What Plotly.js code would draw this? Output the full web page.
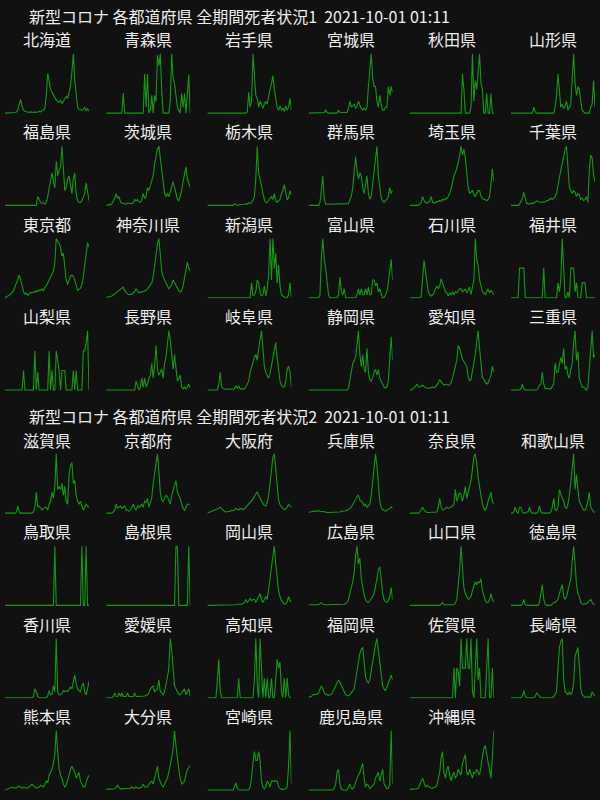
<!DOCTYPE html>
<html><head><meta charset="utf-8">
<script src="https://cdn.plot.ly/plotly-3.0.1.min.js"></script>
<style>html,body{margin:0;padding:0;background:#111111;}#chart{width:600px;height:800px;}</style>
</head><body><div id="chart"></div>
<script>
const mainTitle1 = '新型コロナ 各都道府県 全期間死者状況1  2021-10-01 01:11';
const mainTitle2 = '新型コロナ 各都道府県 全期間死者状況2  2021-10-01 01:11';
const prefNames = ['北海道','青森県','岩手県','宮城県','秋田県','山形県','福島県','茨城県','栃木県','群馬県','埼玉県','千葉県','東京都','神奈川県','新潟県','富山県','石川県','福井県','山梨県','長野県','岐阜県','静岡県','愛知県','三重県',
'滋賀県','京都府','大阪府','兵庫県','奈良県','和歌山県','鳥取県','島根県','岡山県','広島県','山口県','徳島県','香川県','愛媛県','高知県','福岡県','佐賀県','長崎県','熊本県','大分県','宮崎県','鹿児島県','沖縄県'];
const z = n => Array(n).fill(0);
const hokkaido = [0,0,0,0,0,0,0,1,2,5,15,23,12,5,3,2,2,1,2,1,1,2,1,2,3,2,3,5,8,30,67,55,40,35,30,25,22,20,18,22,16,20,25,28,25,35,45,70,100,55,25,10,6,5,5,6,10,4,7,3];
const aomori = [0,0,0,0,0,0,0,0,0,0,0,0,34,0,0,0,0,0,0,0,0,0,0,0,0,0,0,66,10,66,0,5,30,0,30,20,98,80,100,40,0,0,0,0,0,20,100,60,50,30,10,5,0,33,10,33,0,33,65,0];
const iwate = [...z(28),2,35,10,20,100,60,30,25,10,20,12,8,15,20,15,30,40,50,63,40,20,10,5,12,5,8,3,12,5,10,25,5];
const miyagi = [...z(11),1,5,1,...z(7),5,1,1,1,1,1,1,8,20,10,12,15,8,12,20,12,8,5,8,5,10,45,70,100,60,45,45,20,10,30,15,5,5,10,10,45,30,45,35];
const akita = [...z(37),66,40,0,0,0,0,10,100,20,55,40,80,100,50,40,0,0,33,0,0,33,0,0];
const yamagata = [...z(16),10,2,...z(13),10,30,66,40,10,15,8,12,20,5,10,15,60,100,50,30,45,40,20,5,2,0,0,0,0,10,15,55,10];
const fukushima = [...z(23),15,10,5,3,5,2,5,15,30,40,55,40,30,75,50,60,65,100,65,25,30,45,50,30,20,45,55,20,8,5,5,8,15,20,38,20,8];
const ibaraki = [0,0,2,1,3,8,12,20,12,15,6,4,3,3,2,4,3,3,3,5,10,8,10,6,5,10,20,12,15,30,25,35,45,50,70,85,95,100,80,55,30,20,15,20,15,25,30,40,30,20,10,8,15,25,40,50,65,45,35,30];
const tochigi = [...z(19),3,1,0,1,1,2,1,2,3,2,5,3,5,8,15,45,100,55,45,30,20,10,5,5,8,12,15,10,20,8,5,8,10,20,25,35,20,10,12,25,18];
const gunma = [...z(8),5,30,50,10,2,2,2,3,2,2,2,3,2,2,2,3,2,2,3,2,3,10,15,30,55,82,60,45,55,50,30,20,35,50,20,10,15,35,60,85,100,50,30,12,8,5,8,10,15,30,20,25];
const saitama = [0,0,0,0,0,0,0,2,5,15,8,5,4,5,6,15,5,4,5,5,6,8,7,10,9,10,12,15,20,28,40,50,55,62,72,85,100,85,95,80,55,30,20,22,25,18,15,20,25,25,15,12,10,10,8,10,15,35,62,40];
const chiba = [0,0,0,0,0,0,2,8,12,22,10,3,3,2,3,4,3,5,8,6,5,5,6,5,6,8,8,10,12,10,12,15,20,35,50,60,70,85,95,100,60,30,25,20,25,22,15,20,18,10,12,8,10,15,5,60,85,80,50,40];
const tokyo = [0,1,2,4,6,9,12,18,25,32,38,30,20,10,6,8,4,6,9,8,10,9,12,10,13,12,15,12,18,20,25,28,33,38,45,60,100,95,92,85,70,75,45,30,22,30,37,38,36,30,18,12,14,16,22,35,55,75,93,85];
const kanagawa = [1,1,2,2,3,5,6,8,10,12,15,16,18,12,8,6,5,5,6,8,10,15,12,8,9,10,10,12,12,15,18,22,25,35,55,75,90,100,70,45,35,30,25,20,15,18,22,30,25,20,15,12,10,12,20,35,50,60,50,45];
const niigata = [...z(31),25,3,5,10,30,25,8,3,5,20,3,15,40,100,30,100,50,75,25,55,20,5,3,1,0,0,5,25,0];
const toyama = [0,0,0,0,0,0,0,0,5,70,100,65,50,20,5,0,0,0,0,0,0,5,35,10,5,15,0,0,0,0,0,0,0,0,5,15,5,15,5,5,15,5,18,5,5,30,30,20,25,10,15,5,0,0,5,10,25,45,65,30];
const ishikawa = [0,0,0,0,0,0,0,0,2,30,63,45,25,10,5,3,5,8,15,20,15,20,32,25,15,10,8,3,8,5,10,5,10,8,12,15,15,10,12,15,8,12,18,5,15,30,100,65,55,30,20,10,8,5,10,15,8,12,10,5];
const fukui = [0,0,0,0,0,0,50,50,50,50,0,0,0,0,0,0,0,0,0,0,0,0,0,50,0,0,0,0,0,0,0,0,0,25,10,30,100,50,0,0,10,0,50,50,50,10,25,0,0,0,25,25,25,0,0,0,0,0,0,0];
const yamanashi = [...z(13),33,...z(7),66,0,30,...z(7),66,0,33,0,0,66,50,33,0,33,33,33,0,0,0,0,0,33,0,33,0,0,0,0,66,66,80,100,0];
const nagano = [...z(21),15,5,0,5,20,5,20,5,10,20,25,45,20,40,75,35,25,30,35,20,45,55,80,100,85,65,35,60,30,15,20,25,5,2,5,2,5,10,3];
const gifu = [0,0,0,0,0,0,0,0,10,30,5,2,1,2,1,2,1,2,1,2,7,3,7,2,2,2,2,5,10,15,30,40,48,55,60,50,70,90,100,70,40,30,25,20,28,40,50,65,80,55,35,15,8,5,5,15,35,40,30,5];
const shizuoka = [...z(28),3,20,30,45,50,55,75,100,60,40,60,35,30,70,30,18,15,20,30,35,25,35,20,15,8,5,3,5,15,45,90,50];
const aichi = [0,0,2,4,6,10,5,5,6,8,6,4,3,3,3,4,5,4,5,8,12,18,15,10,8,10,9,8,9,12,20,30,42,50,75,70,62,52,48,45,40,22,15,18,30,45,60,82,100,70,40,22,18,15,10,12,18,25,40,30];
const mie = [0,0,0,0,0,0,0,2,10,2,0,0,0,0,0,0,0,0,0,3,8,10,30,10,2,3,2,2,2,5,10,45,30,30,40,55,45,70,35,40,25,20,35,45,80,100,50,65,20,10,5,5,3,0,5,40,60,100,55,60];
const shiga = [0,0,0,0,0,0,0,0,2,12,2,0,0,0,0,0,0,0,0,0,2,10,35,10,12,8,5,8,10,10,5,15,20,35,25,45,100,40,45,40,50,30,45,20,15,65,80,85,50,55,30,20,15,20,10,5,10,15,12,10];
const kyoto = [0,0,0,0,0,2,5,15,8,10,12,8,10,12,5,5,3,5,10,15,8,5,12,10,12,15,10,20,18,25,10,20,25,50,70,90,100,70,35,22,20,25,30,28,20,15,30,40,50,55,35,30,25,15,8,5,10,15,15,15];
const osaka = [0,1,1,2,3,4,5,6,8,10,7,5,3,2,2,2,3,5,4,5,8,6,5,8,7,6,7,10,14,16,18,20,24,28,32,36,30,25,20,16,13,12,18,30,50,72,95,100,70,40,22,14,10,8,6,7,10,15,12,10];
const hyogo = [1,2,2,3,3,4,3,4,3,3,2,2,2,1,1,1,1,1,2,2,2,2,2,3,3,3,4,5,6,8,10,15,20,25,28,30,22,20,18,12,15,10,12,15,30,55,75,100,80,45,20,10,6,5,3,5,6,8,10,8];
const nara = [0,0,0,0,0,0,0,2,5,10,5,2,1,1,1,1,2,2,2,2,10,25,10,5,6,8,10,8,9,10,12,15,40,20,30,35,30,20,30,45,25,35,45,55,75,95,100,85,60,40,30,15,8,5,10,20,30,35,20,15];
const wakayama = [0,0,2,10,2,0,10,10,2,0,0,2,2,10,2,0,0,0,0,2,12,2,0,0,0,0,0,0,2,10,25,5,5,10,40,30,25,20,10,8,15,30,55,80,100,40,65,40,20,15,10,5,5,10,20,35,10,5,2,2];
const tottori = [...z(35),100,...z(18),100,0,0,100,0,0];
const shimane = [...z(49),100,100,...z(7),100,0];
const okayama = [...z(20),1,2,2,1,2,3,5,10,5,8,12,8,10,10,5,10,15,20,10,5,10,15,10,25,45,65,85,100,70,40,25,15,8,5,2,3,6,15,8,5];
const hiroshima = [1,1,1,1,1,1,1,1,3,5,2,1,1,1,1,1,1,1,1,1,1,1,1,1,1,2,3,5,10,18,30,40,55,85,100,70,80,45,30,18,10,6,5,8,12,15,20,30,45,60,65,45,20,10,6,5,8,15,30,10];
const yamaguchi = [...z(22),2,5,1,1,1,1,1,1,1,1,4,10,35,60,100,60,30,20,15,10,12,15,25,35,40,35,40,38,45,25,15,8,5,5,10,20,10,5];
const tokushima = [0,0,0,0,0,0,0,0,2,10,1,0,0,0,0,0,0,0,0,0,5,20,35,10,2,0,0,0,0,2,5,5,8,10,20,30,35,15,10,15,25,30,45,75,100,70,35,20,15,5,2,2,2,3,5,8,10,5,2,2];
const kagawa = [...z(20),2,15,10,2,0,0,0,0,0,0,3,12,5,5,20,10,100,10,5,5,8,12,10,12,10,15,18,15,25,38,25,15,12,10,20,25,10,5,15,28];
const ehime = [0,0,0,0,0,2,8,2,2,8,2,8,2,2,2,8,2,2,2,2,8,2,2,2,2,3,3,3,4,5,8,15,18,20,10,12,15,30,10,8,5,10,20,35,50,100,80,40,20,15,10,5,5,8,12,15,5,10,15,2];
const kochi = [0,0,0,0,0,0,0,30,65,10,0,0,0,0,0,0,0,0,0,0,0,0,33,0,0,0,0,0,0,0,0,0,0,30,100,20,0,100,40,0,33,0,33,0,0,33,0,0,30,65,50,60,10,0,33,0,33,5,0,0];
const fukuoka = [1,1,2,5,5,5,6,8,15,20,15,8,6,5,4,5,6,10,15,22,25,30,26,20,15,10,5,4,3,5,8,10,15,30,45,55,75,82,85,60,35,28,25,30,45,65,75,90,100,80,55,35,20,15,12,18,25,30,38,30];
const saga = [...z(31),50,0,50,45,20,100,50,50,50,100,50,50,100,10,0,50,100,30,50,0,0,0,0,50,100,0,0,50,0];
const nagasaki = [0,0,0,0,0,0,0,0,3,12,2,0,0,0,0,0,0,2,8,5,2,0,0,0,0,0,0,0,0,0,2,5,10,50,85,95,100,30,10,8,5,10,5,10,25,70,80,85,55,15,5,2,1,1,1,2,1,10,5,2];
const kumamoto = [0,1,2,3,5,5,3,3,4,5,7,5,3,5,4,3,4,5,8,10,7,5,3,4,5,8,6,5,10,15,12,25,30,35,45,60,100,60,35,25,20,10,5,8,15,25,35,40,35,30,20,25,30,15,10,5,5,15,20,25];
const oita = [1,1,1,1,1,1,2,5,8,4,2,2,2,2,2,2,2,3,5,3,3,5,3,3,4,5,10,5,5,5,10,12,15,10,20,30,40,20,12,8,5,10,15,20,30,40,55,70,100,75,50,35,20,10,12,15,25,35,38,42];
const miyazaki = [...z(19),5,12,3,0,0,0,0,0,0,0,0,5,20,45,65,50,50,65,50,15,5,2,5,15,12,5,15,15,15,15,15,5,2,1,1,1,2,5,40,100,10];
const kagoshima = [...z(18),3,10,30,35,10,2,0,0,0,0,5,10,3,2,5,15,20,25,30,38,45,20,5,10,8,2,5,8,10,20,25,30,15,25,35,10,5,2,3,10,100,10];
const okinawa = [1,1,1,1,1,2,3,10,15,20,12,5,8,6,5,3,3,4,5,8,20,30,55,65,30,20,35,40,25,15,25,30,20,25,35,30,25,45,55,60,30,25,35,25,20,30,28,35,30,25,40,55,70,75,60,45,30,20,55,100];

const seriesList = [hokkaido,aomori,iwate,miyagi,akita,yamagata,fukushima,ibaraki,tochigi,gunma,saitama,chiba,tokyo,kanagawa,niigata,toyama,ishikawa,fukui,yamanashi,nagano,gifu,shizuoka,aichi,mie,
shiga,kyoto,osaka,hyogo,nara,wakayama,tottori,shimane,okayama,hiroshima,yamaguchi,tokushima,kagawa,ehime,kochi,fukuoka,saga,nagasaki,kumamoto,oita,miyazaki,kagoshima,okinawa];

const W = 600, H = 800;
const font = '"Noto Sans CJK JP", "Noto Sans", sans-serif';
const traces = [];
const layout = {
  width: W, height: H,
  margin: {l:0, r:0, t:0, b:0},
  paper_bgcolor: '#111111', plot_bgcolor: '#111111',
  showlegend: false, hovermode: false,
  annotations: [
    {text: mainTitle1, xref:'paper', yref:'paper', x: 27/W, y: 1-16/H, xanchor:'left', yanchor:'middle', showarrow:false, font:{family:font, size:16, color:'#eeeeee'}},
    {text: mainTitle2, xref:'paper', yref:'paper', x: 27/W, y: 1-415.5/H, xanchor:'left', yanchor:'middle', showarrow:false, font:{family:font, size:16, color:'#eeeeee'}}
  ]
};
seriesList.forEach((vals, k) => {
  const g = k < 24 ? 0 : 1;
  const j = k % 24;
  const r = Math.floor(j / 6), c = j % 6;
  const x0 = 5 + c * 101.2, x1 = x0 + 84;
  const top = (g ? 453 : 53) + r * 92.3, bottom = top + 61;
  const n = k + 1;
  const sfx = n === 1 ? '' : String(n);
  const m = Math.max(...vals);
  traces.push({y: vals, type:'scatter', mode:'lines', line:{color:'#129a12', width:1.1},
    xaxis: 'x' + sfx, yaxis: 'y' + sfx});
  layout['xaxis' + sfx] = {domain:[x0/W, x1/W], range:[0, vals.length-1], visible:false, fixedrange:true, anchor: 'y' + sfx};
  layout['yaxis' + sfx] = {domain:[1-bottom/H, 1-top/H], range:[-0.015*m, 1.015*m], visible:false, fixedrange:true, anchor: 'x' + sfx};
  const ty = (g === 1 && r === 0) ? top - 13 : top - 14;
  layout.annotations.push({text: prefNames[k], xref:'paper', yref:'paper', x:(x0+x1)/2/W, y:1-ty/H,
    xanchor:'center', yanchor:'middle', showarrow:false, font:{family:font, size:16, color:'#eeeeee'}});
});
Plotly.newPlot('chart', traces, layout, {staticPlot:true, displayModeBar:false});
</script>
</body></html>
